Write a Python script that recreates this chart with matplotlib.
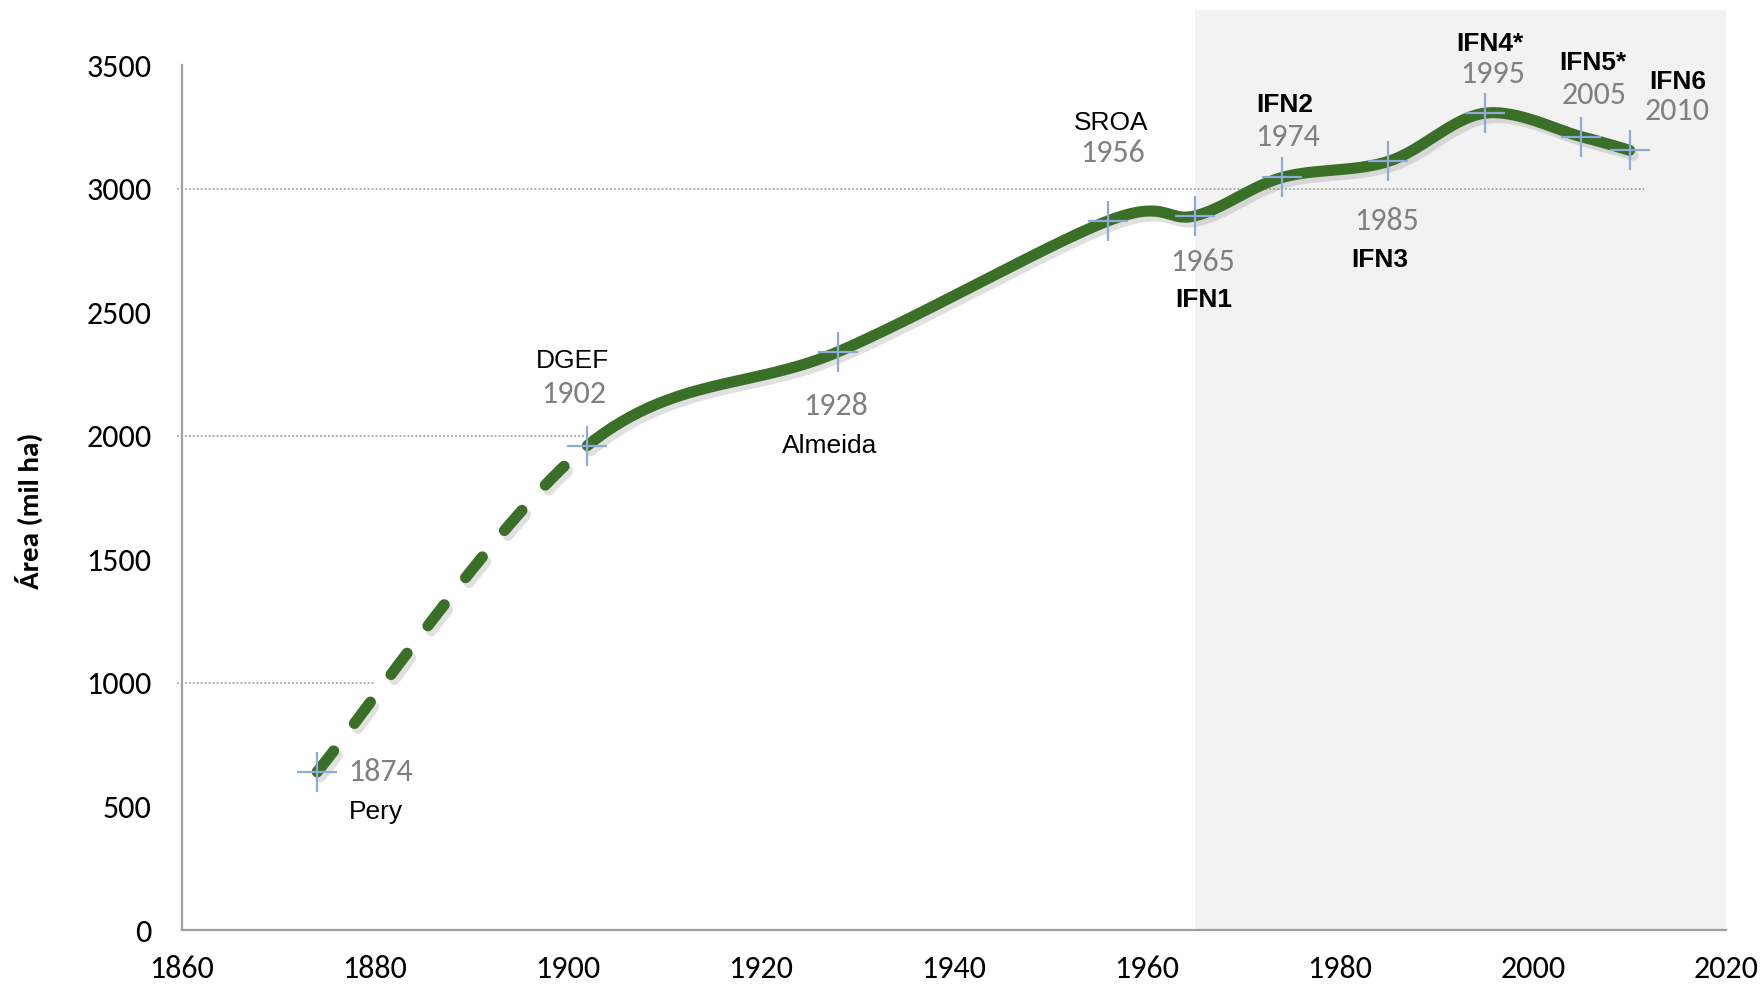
import matplotlib
matplotlib.use("Agg")
import matplotlib.pyplot as plt
import matplotlib.patheffects as pe
import numpy as np
from matplotlib import font_manager
from matplotlib.patches import Rectangle

# forest inventories and estimated area (thousand ha)
years = [1874, 1902, 1928, 1956, 1965, 1974, 1985, 1995, 2005, 2010]
area = [640, 1960, 2340, 2870, 2890, 3045, 3110, 3305, 3210, 3155]
sources = ["Pery", "DGEF", "Almeida", "SROA", "IFN1", "IFN2", "IFN3", "IFN4*", "IFN5*", "IFN6"]
is_ifn = [False, False, False, False, True, True, True, True, True, True]

x_ticks = [1860, 1880, 1900, 1920, 1940, 1960, 1980, 2000, 2020]
y_ticks = [0, 500, 1000, 1500, 2000, 2500, 3000, 3500]
ifn_start, ifn_end = 1965, 2020

# label placement, offsets in points from each marker: (year label, source label)
year_offsets = [(46, 0), (-10, 37), (-2, -39), (3, 49), (5, -33), (4, 29), (-1, -43), (6, 28), (9, 30), (34, 28)]
name_offsets = [(42, -29), (-11, 61), (-6, -68), (2, 70), (6, -61), (2, 52), (-6, -71), (4, 50), (8, 53), (35, 49)]

names = {f.name for f in font_manager.fontManager.ttflist}
regular = "Liberation Sans" if "Liberation Sans" in names else "DejaVu Sans"
calibri = "Carlito" if "Carlito" in names else regular
cal_scale = 1.0 if calibri == "Carlito" else 0.85

GREEN = "#3a6f27"
GREY_TXT = "#808080"

fig = plt.figure(figsize=(17.62, 9.85), dpi=100)
ax = fig.add_axes([0.1033, 0.0558, 0.8763, 0.8782])
ax.set_xlim(1860, 2020)
ax.set_ylim(0, 3500)

# px per unit, to smooth the curve in screen space like the spreadsheet does
sx = 1544 / 160
sy = 865 / 3500


def smooth_segments(xs, ys, n=60):
    pts = np.column_stack([(np.asarray(xs) - 1860) * sx, np.asarray(ys) * sy])
    ext = np.vstack([pts[0], pts, pts[-1]])
    t = np.linspace(0, 1, n)[:, None]
    segs = []
    for i in range(len(pts) - 1):
        p0, p1, p2, p3 = ext[i], ext[i + 1], ext[i + 2], ext[i + 3]
        c1 = p1 + (p2 - p0) / 6
        c2 = p2 - (p3 - p1) / 6
        seg = (1 - t) ** 3 * p1 + 3 * (1 - t) ** 2 * t * c1 + 3 * (1 - t) * t ** 2 * c2 + t ** 3 * p2
        segs.append(np.column_stack([seg[:, 0] / sx + 1860, seg[:, 1] / sy]))
    return segs


segs = smooth_segments(years, area)
first = segs[0]
rest = np.vstack([s if i == 0 else s[1:] for i, s in enumerate(segs[1:])])

shadow = [pe.SimpleLineShadow(offset=(2.5, -3.5), shadow_color="0.4", alpha=0.2), pe.Normal()]

# IFN period shading
ax.add_patch(Rectangle((ifn_start, 0), ifn_end - ifn_start, 3722, facecolor="#f2f2f2",
                       edgecolor="none", clip_on=False, zorder=0))

# partial dotted gridlines
for val, x_end in [(1000, 1880), (2000, 1903.3), (3000, 2011.5)]:
    ax.plot([1859.5, x_end], [val, val], ls=(0, (1, 1.2)), color="#a6a6a6", lw=1.3,
            clip_on=False, zorder=1)

lw = 8
ax.plot(first[:, 0], first[:, 1], color=GREEN, lw=lw, ls=(0, (2.4, 3.1)),
        dash_capstyle="round", solid_capstyle="round", path_effects=shadow, zorder=3)
ax.plot(rest[:, 0], rest[:, 1], color=GREEN, lw=lw, solid_capstyle="round",
        solid_joinstyle="round", path_effects=shadow, zorder=3)
ax.plot(years, area, "+", ms=29, mew=1.6, color="#8eaadb", zorder=5)

for yr, val, src, ifn, yo, no in zip(years, area, sources, is_ifn, year_offsets, name_offsets):
    ax.annotate(str(yr), (yr, val), xytext=yo, textcoords="offset points", ha="center",
                va="center", color=GREY_TXT, fontsize=23 * cal_scale, family=calibri, zorder=6)
    ax.annotate(src, (yr, val), xytext=no, textcoords="offset points", ha="center",
                va="center", color="black", fontweight="bold" if ifn else "normal",
                fontsize=19, family=regular, zorder=6)

for side in ["top", "right"]:
    ax.spines[side].set_visible(False)
for side in ["left", "bottom"]:
    ax.spines[side].set_color("#a0a0a0")
    ax.spines[side].set_linewidth(1.6)
    ax.spines[side].set_zorder(2)

ax.set_xticks(x_ticks)
ax.set_yticks(y_ticks)
ax.tick_params(axis="both", length=0, labelsize=23 * cal_scale)
ax.tick_params(axis="x", pad=18)
ax.tick_params(axis="y", pad=22)
for lab in ax.get_xticklabels() + ax.get_yticklabels():
    lab.set_family(calibri)

ax.set_ylabel("Área (mil ha)", fontsize=21 * cal_scale, fontweight="bold", family=calibri)
ax.yaxis.set_label_coords(-0.09, 0.485)

fig.savefig("out.png", dpi=100)
